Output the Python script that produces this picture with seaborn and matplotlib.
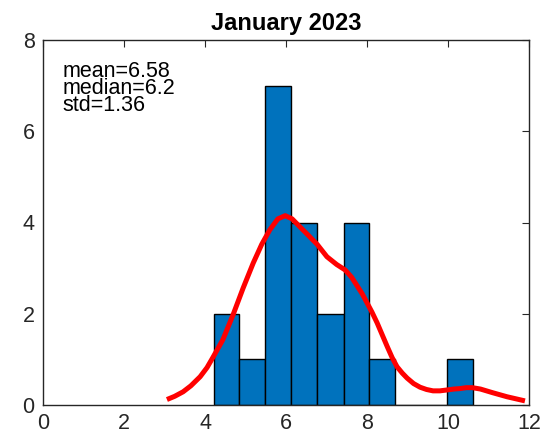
import matplotlib
matplotlib.use("Agg")
import matplotlib.pyplot as plt
import seaborn as sns

# Histogram of daily values, January 2023
bin_edges = [4.21, 4.85, 5.49, 6.13, 6.77, 7.42, 8.06, 8.70, 9.34, 9.98, 10.62]
bin_counts = [2, 1, 7, 4, 2, 4, 1, 0, 0, 1]

# Kernel density estimate, scaled to counts
kde_x = [3.06, 3.25, 3.46, 3.65, 3.88, 4.05, 4.20, 4.44, 4.69, 4.94, 5.19, 5.40,
         5.60, 5.80, 5.98, 6.15, 6.35, 6.55, 6.77, 7.01, 7.25, 7.46, 7.62, 7.75,
         7.88, 8.00, 8.12, 8.25, 8.37, 8.50, 8.62, 8.74, 8.87, 8.99, 9.15, 9.31,
         9.47, 9.63, 9.80, 9.98, 10.15, 10.30, 10.45, 10.60, 10.80, 11.10, 11.46,
         11.90]
kde_y = [0.12, 0.19, 0.29, 0.42, 0.62, 0.82, 1.05, 1.43, 1.97, 2.56, 3.11, 3.52,
         3.84, 4.08, 4.15, 4.08, 3.90, 3.72, 3.52, 3.25, 3.08, 2.96, 2.80, 2.62,
         2.44, 2.24, 2.04, 1.80, 1.55, 1.28, 1.04, 0.84, 0.70, 0.59, 0.47, 0.39,
         0.34, 0.31, 0.31, 0.33, 0.35, 0.36, 0.38, 0.38, 0.35, 0.27, 0.18, 0.09]

stats_lines = ["mean=6.58", "median=6.2", "std=1.36"]
title = "January 2023"
x_ticks = [0, 2, 4, 6, 8, 10, 12]
y_ticks = [0, 2, 4, 6, 8]

sns.set_style("white")
plt.rcParams["font.family"] = ["Liberation Sans", "DejaVu Sans"]

fig = plt.figure(figsize=(5.44, 4.37), dpi=100)
ax = fig.add_axes([43 / 544, 32 / 437, 486 / 544, 365 / 437])

centers = [(a + b) / 2 for a, b in zip(bin_edges[:-1], bin_edges[1:])]
sns.histplot(x=centers, weights=bin_counts, bins=bin_edges, ax=ax,
             color="#0072BD", alpha=1.0, edgecolor="black", linewidth=1.0)
sns.lineplot(x=kde_x, y=kde_y, ax=ax, color="red", linewidth=3.6,
             solid_joinstyle="round", solid_capstyle="butt")

ax.set_xlim(0, 12)
ax.set_ylim(0, 8)
ax.set_xticks(x_ticks)
ax.set_yticks(y_ticks)
ax.set_xlabel("")
ax.set_ylabel("")
ax.tick_params(direction="in", length=5, width=0.8, colors="#262626",
               labelsize=15.5, top=True, right=True, pad=6)
for s in ax.spines.values():
    s.set_color("#262626")
    s.set_linewidth(1.0)
    s.set_visible(True)

ax.set_title(title, fontsize=17, fontweight="bold", pad=7, color="black")

# Summary statistics block in the upper-left corner
ax.text(0.041, 0.942, "\n".join(stats_lines), transform=ax.transAxes,
        fontsize=15.5, va="top", ha="left", color="black", linespacing=0.75)

fig.savefig("out.png", dpi=100)
